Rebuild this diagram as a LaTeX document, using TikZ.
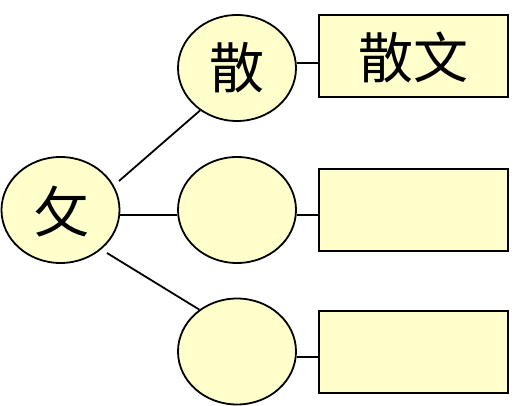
\documentclass[tikz,border=0pt]{standalone}
\usepackage{fontspec}
\newfontfamily\cjk{Noto Sans CJK SC}
\definecolor{fillyellow}{HTML}{FFFFCC}
\usetikzlibrary{shapes.geometric}
\begin{document}
\begin{tikzpicture}[x=1pt,y=-1pt,
  bubble/.style={ellipse, draw=black, line width=1.8pt, fill=fillyellow, minimum width=118pt, minimum height=106pt, inner sep=0pt},
  card/.style={rectangle, draw=black, line width=1.8pt, fill=fillyellow, minimum width=189pt, minimum height=82pt, inner sep=0pt},
  link/.style={line width=1.8pt, black},
  big/.style={font=\cjk\fontsize{55}{55}\selectfont}]
\useasboundingbox (0,0) rectangle (514,406);
\node[bubble] (root) at (60.5,210) {};
\node[bubble] (e1) at (237,68) {};
\node[bubble] (e2) at (237,210) {};
\node[bubble] (e3) at (237,351.5) {};
\node[card] (r1) at (413.5,56) {};
\node[card] (r2) at (413.5,210) {};
\node[card] (r3) at (413.5,352) {};
\node[big] (t0) at (62,212) {攵};
\node[big] (t1) at (237,68) {散};
\node[big] (t2) at (413.5,57) {散文};
\coordinate (a0) at (119,181);
\coordinate (a2) at (107,253);
\draw[link] (a0) -- (e1.{-131});
\draw[link] (root.east |- 0,215) -- (e2.west |- 0,215);
\draw[link] (a2) -- (e3.{132});
\draw[link] (e1.east |- 0,63) -- (r1.west |- 0,63);
\draw[link] (e2.east |- 0,215) -- (r2.west |- 0,215);
\draw[link] (e3.east |- 0,357) -- (r3.west |- 0,357);
\end{tikzpicture}
\end{document}
